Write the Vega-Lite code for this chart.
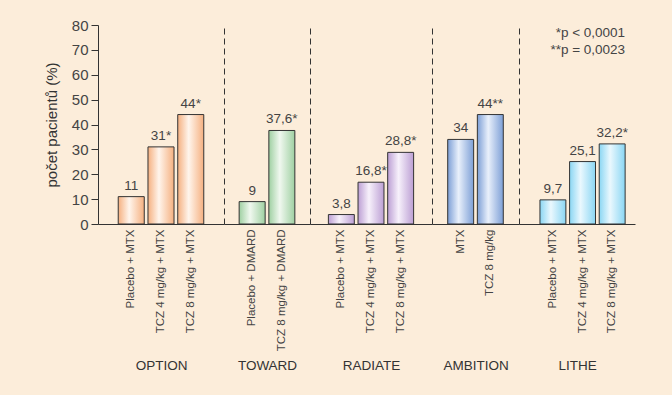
{
  "$schema": "https://vega.github.io/schema/vega-lite/v6.json",
  "background": "#fcedda",
  "padding": {"left": 44, "top": 18, "right": 37, "bottom": 25},
  "data": {"values": [
    {"group": "OPTION", "treatment": "Placebo + MTX", "value": 11, "label": "11"},
    {"group": "OPTION", "treatment": "TCZ 4 mg/kg + MTX", "value": 31, "label": "31*"},
    {"group": "OPTION", "treatment": "TCZ 8 mg/kg + MTX", "value": 44, "label": "44*"},
    {"group": "TOWARD", "treatment": "Placebo + DMARD", "value": 9, "label": "9"},
    {"group": "TOWARD", "treatment": "TCZ 8 mg/kg + DMARD", "value": 37.6, "label": "37,6*"},
    {"group": "RADIATE", "treatment": "Placebo + MTX", "value": 3.8, "label": "3,8"},
    {"group": "RADIATE", "treatment": "TCZ 4 mg/kg + MTX", "value": 16.8, "label": "16,8*"},
    {"group": "RADIATE", "treatment": "TCZ 8 mg/kg + MTX", "value": 28.8, "label": "28,8*"},
    {"group": "AMBITION", "treatment": "MTX", "value": 34, "label": "34"},
    {"group": "AMBITION", "treatment": "TCZ 8 mg/kg", "value": 44, "label": "44**"},
    {"group": "LITHE", "treatment": "Placebo + MTX", "value": 9.7, "label": "9,7"},
    {"group": "LITHE", "treatment": "TCZ 4 mg/kg + MTX", "value": 25.1, "label": "25,1"},
    {"group": "LITHE", "treatment": "TCZ 8 mg/kg + MTX", "value": 32.2, "label": "32,2*"}
  ]},
  "spacing": 0,
  "hconcat": [
    {
      "width": 126, "height": 199,
      "transform": [{"filter": "datum.group === 'OPTION'"}],
      "encoding": {
        "x": {"field": "treatment", "type": "nominal", "sort": null, "scale": {"paddingInner": 0.125, "paddingOuter": 0.68}, "axis": {"title": "OPTION"}},
        "y": {"field": "value", "type": "quantitative", "scale": {"domain": [0, 80]}, "axis": {"title": "počet pacientů (%)", "tickCount": 8, "labels": true, "ticks": true, "tickSize": 7, "labelPadding": 3, "titlePadding": 12, "labelFontSize": 15, "titleFontSize": 15}}
      },
      "layer": [
        {"mark": {"type": "bar", "stroke": "#333333", "strokeWidth": 1, "fill": {"gradient": "linear", "x1": 0, "x2": 1, "y1": 0, "y2": 0, "stops": [{"offset": 0, "color": "#f5b080"}, {"offset": 0.42, "color": "#fff5ec"}, {"offset": 1, "color": "#f5b080"}]}}},
        {"mark": {"type": "text", "baseline": "bottom", "dy": -4, "fontSize": 13.5, "fontWeight": "normal", "color": "#444444", "font": "Liberation Sans"}, "encoding": {"text": {"field": "label"}}}
      ]
    },
    {
      "width": 86, "height": 199,
      "transform": [{"filter": "datum.group === 'TOWARD'"}],
      "encoding": {
        "x": {"field": "treatment", "type": "nominal", "sort": null, "scale": {"paddingInner": 0.125, "paddingOuter": 0.51}, "axis": {"title": "TOWARD"}},
        "y": {"field": "value", "type": "quantitative", "scale": {"domain": [0, 80]}, "axis": {"title": null, "labels": false, "ticks": false, "domainDash": [6, 4]}}
      },
      "layer": [
        {"mark": {"type": "bar", "stroke": "#333333", "strokeWidth": 1, "fill": {"gradient": "linear", "x1": 0, "x2": 1, "y1": 0, "y2": 0, "stops": [{"offset": 0, "color": "#9fd0a2"}, {"offset": 0.42, "color": "#f0f8ef"}, {"offset": 1, "color": "#9fd0a2"}]}}},
        {"mark": {"type": "text", "baseline": "bottom", "dy": -4, "fontSize": 13.5, "fontWeight": "normal", "color": "#444444", "font": "Liberation Sans"}, "encoding": {"text": {"field": "label"}}}
      ]
    },
    {
      "width": 122, "height": 199,
      "transform": [{"filter": "datum.group === 'RADIATE'"}],
      "encoding": {
        "x": {"field": "treatment", "type": "nominal", "sort": null, "scale": {"paddingInner": 0.125, "paddingOuter": 0.62}, "axis": {"title": "RADIATE"}},
        "y": {"field": "value", "type": "quantitative", "scale": {"domain": [0, 80]}, "axis": {"title": null, "labels": false, "ticks": false, "domainDash": [6, 4]}}
      },
      "layer": [
        {"mark": {"type": "bar", "stroke": "#333333", "strokeWidth": 1, "fill": {"gradient": "linear", "x1": 0, "x2": 1, "y1": 0, "y2": 0, "stops": [{"offset": 0, "color": "#bc9fd4"}, {"offset": 0.42, "color": "#f7f1fb"}, {"offset": 1, "color": "#bc9fd4"}]}}},
        {"mark": {"type": "text", "baseline": "bottom", "dy": -4, "fontSize": 13.5, "fontWeight": "normal", "color": "#444444", "font": "Liberation Sans"}, "encoding": {"text": {"field": "label"}}}
      ]
    },
    {
      "width": 87, "height": 199,
      "transform": [{"filter": "datum.group === 'AMBITION'"}],
      "encoding": {
        "x": {"field": "treatment", "type": "nominal", "sort": null, "scale": {"paddingInner": 0.125, "paddingOuter": 0.53}, "axis": {"title": "AMBITION"}},
        "y": {"field": "value", "type": "quantitative", "scale": {"domain": [0, 80]}, "axis": {"title": null, "labels": false, "ticks": false, "domainDash": [6, 4]}}
      },
      "layer": [
        {"mark": {"type": "bar", "stroke": "#333333", "strokeWidth": 1, "fill": {"gradient": "linear", "x1": 0, "x2": 1, "y1": 0, "y2": 0, "stops": [{"offset": 0, "color": "#7d9fd6"}, {"offset": 0.42, "color": "#e9f0fb"}, {"offset": 1, "color": "#7d9fd6"}]}}},
        {"mark": {"type": "text", "baseline": "bottom", "dy": -4, "fontSize": 13.5, "fontWeight": "normal", "color": "#444444", "font": "Liberation Sans"}, "encoding": {"text": {"field": "label"}}}
      ]
    },
    {
      "width": 116, "height": 199,
      "transform": [{"filter": "datum.group === 'LITHE'"}],
      "encoding": {
        "x": {"field": "treatment", "type": "nominal", "sort": null, "scale": {"paddingInner": 0.125, "paddingOuter": 0.52, "align": 0.68}, "axis": {"title": "LITHE"}},
        "y": {"field": "value", "type": "quantitative", "scale": {"domain": [0, 80]}, "axis": {"title": null, "labels": false, "ticks": false, "domainDash": [6, 4]}}
      },
      "layer": [
        {"mark": {"type": "bar", "stroke": "#333333", "strokeWidth": 1, "fill": {"gradient": "linear", "x1": 0, "x2": 1, "y1": 0, "y2": 0, "stops": [{"offset": 0, "color": "#8ad6f3"}, {"offset": 0.42, "color": "#eaf8fe"}, {"offset": 1, "color": "#8ad6f3"}]}}},
        {"mark": {"type": "text", "baseline": "bottom", "dy": -4, "fontSize": 13.5, "fontWeight": "normal", "color": "#444444", "font": "Liberation Sans"}, "encoding": {"text": {"field": "label"}}},
        {"transform": [{"filter": "datum.treatment === 'TCZ 8 mg/kg + MTX'"}],
         "mark": {"type": "text", "text": ["*p < 0,0001", "**p = 0,0023"], "align": "right", "baseline": "top", "lineHeight": 17, "fontSize": 13.5, "fontWeight": "normal", "color": "#444444", "font": "Liberation Sans"},
         "encoding": {"x": {"datum": "TCZ 8 mg/kg + MTX", "bandPosition": 1}, "y": {"datum": 79.5}}}
      ]
    }
  ],
  "config": {
    "view": {"stroke": null},
    "font": "Liberation Sans",
    "axis": {"grid": false, "domainColor": "#333333", "domainWidth": 1, "tickColor": "#333333", "labelColor": "#444444", "titleColor": "#333333", "labelFont": "Liberation Sans", "titleFont": "Liberation Sans", "titleFontWeight": "normal"},
    "axisX": {"ticks": false, "labelAngle": -90, "labelAlign": "right", "labelBaseline": "middle", "labelFontSize": 11.5, "labelPadding": 5, "titleFontSize": 13.5, "titleY": 141, "titleBaseline": "middle", "labelLimit": 200}
  }
}
